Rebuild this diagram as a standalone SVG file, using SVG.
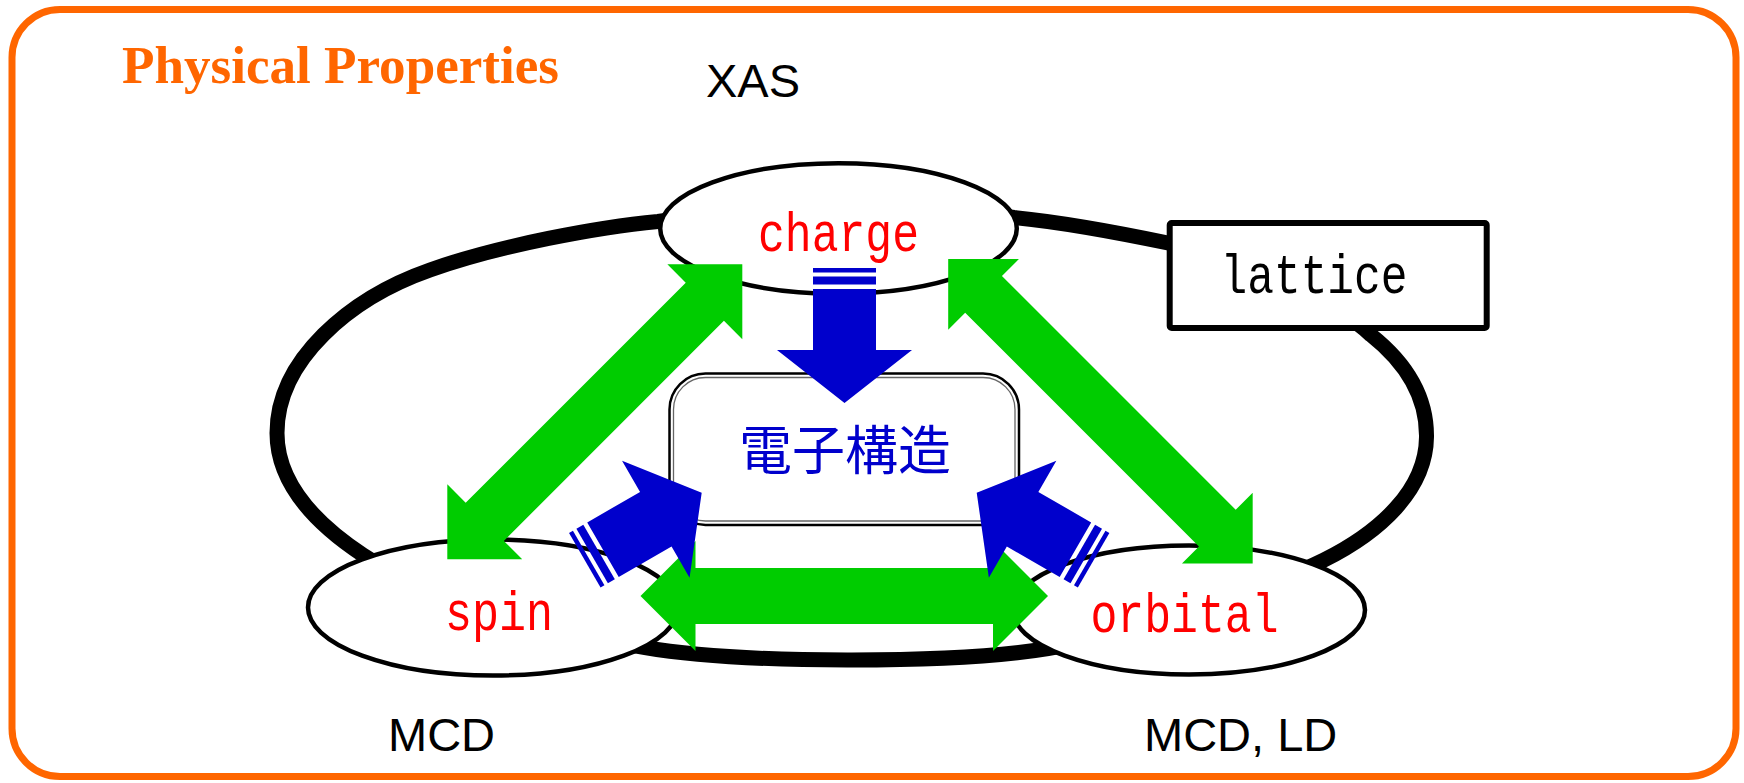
<svg xmlns="http://www.w3.org/2000/svg" xmlns:xlink="http://www.w3.org/1999/xlink" width="1744" height="783" viewBox="0 0 1744 783">
<style>
.ell{fill:#fff;stroke:#000;stroke-width:4.5}
.mono{font-family:"Liberation Mono","DejaVu Sans Mono",monospace;font-size:56px}
.red{fill:#FF0000}
.lbl{font-family:"Liberation Sans",Arial,sans-serif;font-size:47px;fill:#000}
.grn{fill:#00CC00}
.blu{fill:#0000CC}
</style>
<defs>
<g id="barrow">
<path d="M0,0 L-53,-67.5 L-53,-31.5 L-114,-31.5 L-114,31.5 L-53,31.5 L-53,67.5 Z"/>
<rect x="-126.5" y="-31.5" width="8" height="63"/>
<rect x="-135" y="-31.5" width="4.5" height="63"/>
</g>
</defs>
<rect width="1744" height="783" fill="#fff"/>
<rect x="12" y="9.5" width="1724" height="767" rx="48" ry="48" fill="none" stroke="#FF6600" stroke-width="7"/>
<text x="122" y="83" font-family="'Liberation Serif','Times New Roman',serif" font-weight="bold" font-size="53" fill="#FF6600" textLength="437" lengthAdjust="spacingAndGlyphs">Physical Properties</text>
<text class="lbl" x="706" y="97">XAS</text>
<text class="lbl" x="388" y="751">MCD</text>
<text class="lbl" x="1144" y="751">MCD, LD</text>

<g id="loop">
<path d="M1014,217.5 C950,208 720,212 658,221.5 C600,227 500,245 430,270 C350,298 277,360 277,433 C277,480 310,520 363,555 C416,590 500,625 645,647.5 C740,664 955,664 1048,648.5 C1108,638.5 1268,588 1324,560 C1380,532 1426,490 1426.5,437 C1427,395 1405,362 1371,335 C1340,305 1250,260 1168,243 C1120,233 1060,222 1014,217.5 Z" fill="none" stroke="#000" stroke-width="15"/>
</g>

<g id="charge">
<ellipse class="ell" cx="838.5" cy="228.5" rx="178.3" ry="65.3"/>
<text class="mono red" x="758" y="251" textLength="161" lengthAdjust="spacingAndGlyphs">charge</text>
</g>
<g id="spin">
<ellipse class="ell" cx="493" cy="607.5" rx="185" ry="68"/>
<text class="mono red" x="445" y="630" textLength="108" lengthAdjust="spacingAndGlyphs">spin</text>
</g>
<g id="orbital">
<ellipse class="ell" cx="1189" cy="610" rx="176" ry="64.5"/>
<text class="mono red" x="1090.5" y="632" textLength="188" lengthAdjust="spacingAndGlyphs">orbital</text>
</g>
<g id="lattice">
<rect x="1169.7" y="223" width="317" height="105" rx="2" fill="#fff" stroke="#000" stroke-width="6" stroke-linejoin="round"/>
<text class="mono" x="1220.5" y="293" textLength="187" lengthAdjust="spacingAndGlyphs" fill="#000">lattice</text>
</g>
<g id="electronic-structure">
<rect x="669.5" y="373.5" width="349.5" height="151.5" rx="36" fill="#fff" stroke="#000" stroke-width="2.5"/>
<rect x="673.5" y="377.5" width="341.5" height="143.5" rx="32" fill="none" stroke="#666" stroke-width="1.3"/>
<text x="845" y="470" text-anchor="middle" font-family="'Noto Sans CJK JP','Noto Sans CJK SC',sans-serif" font-size="53" fill="#0000CC">電子構造</text>
</g>

<g id="connectors">
<path class="grn" transform="translate(447.3,559.3) rotate(-45)" d="M0,0 L53,-53 L53,-27 L364.2,-27 L364.2,-53 L417.2,0 L364.2,53 L364.2,27 L53,27 L53,53 Z"/>
<path class="grn" transform="translate(948.2,259) rotate(45)" d="M0,0 L50,-50 L50,-26 L380.6,-26 L380.6,-50 L430.6,0 L380.6,50 L380.6,26 L50,26 L50,50 Z"/>
<path class="grn" transform="translate(640.5,596)" d="M0,0 L55,-55 L55,-28 L352.5,-28 L352.5,-55 L407.5,0 L352.5,55 L352.5,28 L55,28 L55,55 Z"/>
<use class="blu" xlink:href="#barrow" href="#barrow" transform="translate(844.5,403) rotate(90)"/>
<use class="blu" xlink:href="#barrow" href="#barrow" transform="translate(701.7,492.7) rotate(-30)"/>
<use class="blu" xlink:href="#barrow" href="#barrow" transform="translate(976.7,492.7) rotate(-150)"/>
</g>
</svg>
